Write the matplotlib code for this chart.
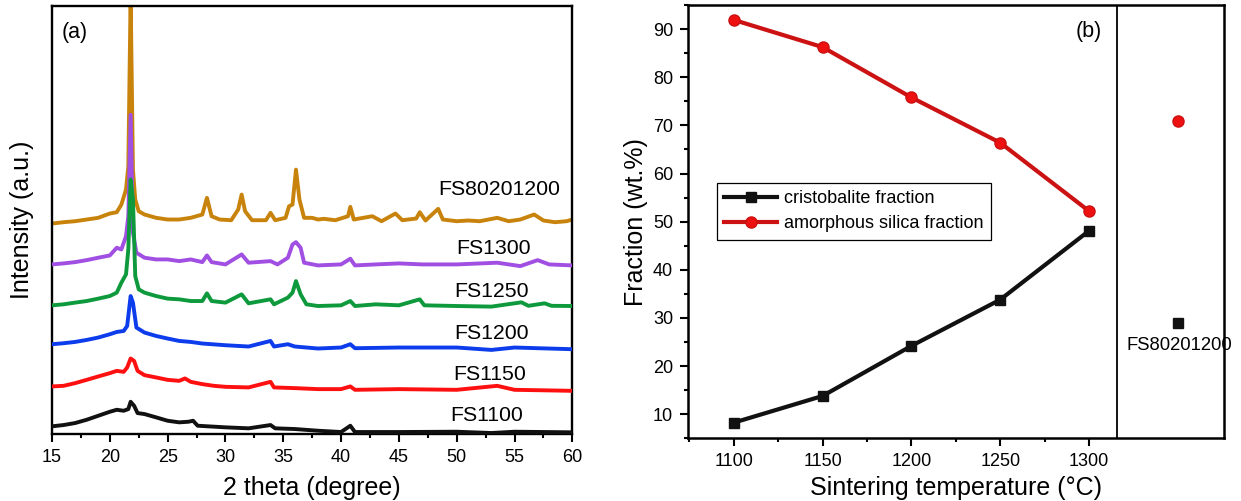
import matplotlib
matplotlib.use('Agg')
import matplotlib.pyplot as plt
from matplotlib.ticker import FixedLocator, MultipleLocator

plt.rcParams['font.family'] = ['Liberation Sans', 'DejaVu Sans']

# ---------------- (a) XRD patterns (2theta in degree, intensity in a.u., offset stacked) -------------
fs1100_x = [15.0, 16.0, 17.0, 18.0, 19.0, 20.0, 20.6, 21.2, 21.6, 21.8, 22.1, 22.4, 23.0, 24.0, 25.0,
            26.0, 26.8, 27.2, 27.6, 28.5, 30.0, 32.0, 33.9, 34.3, 36.0, 38.0, 40.0, 40.8, 41.2, 45.0,
            50.0, 53.0, 55.0, 60.0]
fs1100_y = [7.7, 9.0, 11.0, 14.3, 18.3, 22.3, 24.3, 23.3, 25.0, 32.3, 28.3, 21.0, 20.0, 16.7, 13.3,
            11.7, 12.3, 13.3, 8.3, 7.7, 6.7, 5.7, 9.0, 5.7, 5.0, 3.3, 2.0, 8.3, 2.0, 2.0,
            2.3, 1.0, 2.3, 1.7]

fs1150_x = [15.0, 16.0, 17.0, 18.0, 19.0, 20.0, 20.6, 21.2, 21.5, 21.8, 22.1, 22.4, 23.0, 24.0, 25.0,
            26.0, 26.5, 27.0, 28.0, 29.0, 30.0, 32.0, 33.9, 34.2, 36.0, 38.0, 40.0, 40.8, 41.2, 45.0,
            50.0, 53.5, 55.0, 60.0]
fs1150_y = [47.7, 48.3, 51.0, 54.3, 57.7, 61.0, 63.3, 62.3, 66.7, 75.7, 73.3, 63.3, 59.0, 56.7, 54.3,
            53.3, 55.7, 52.3, 50.0, 48.3, 47.3, 46.7, 52.3, 46.7, 46.0, 45.0, 45.0, 47.7, 44.3, 45.0,
            44.3, 48.3, 44.3, 43.3]

fs1200_x = [15.0, 16.0, 17.0, 18.0, 19.0, 20.0, 20.6, 21.2, 21.5, 21.8, 22.0, 22.3, 23.0, 24.0, 25.0,
            26.0, 27.0, 28.0, 30.0, 32.0, 33.9, 34.2, 35.4, 36.0, 38.0, 40.0, 40.8, 41.2, 45.0, 50.0,
            53.0, 55.0, 60.0]
fs1200_y = [90.0, 91.0, 92.3, 94.3, 96.7, 100.0, 102.3, 103.3, 108.3, 138.3, 131.7, 106.7, 101.7, 98.3, 95.7,
            93.3, 92.3, 90.7, 89.0, 87.7, 93.3, 87.7, 90.0, 87.7, 85.7, 86.7, 90.0, 86.0, 86.7, 86.7,
            84.3, 86.7, 85.0]

fs1250_x = [15.0, 16.0, 17.0, 18.0, 19.0, 20.0, 20.6, 21.0, 21.4, 21.6, 21.8, 22.0, 22.2, 22.5, 23.0,
            24.0, 25.0, 26.0, 27.0, 28.0, 28.4, 28.8, 30.0, 31.4, 32.0, 33.9, 34.2, 35.4, 35.8, 36.1,
            36.5, 37.0, 38.0, 40.0, 40.8, 41.2, 43.0, 45.0, 46.8, 47.2, 50.0, 53.0, 55.6, 56.2, 57.6,
            58.2, 60.0]
fs1250_y = [129.0, 130.0, 131.7, 133.3, 135.7, 138.3, 141.7, 151.7, 160.0, 185.0, 255.0, 235.0, 158.3, 145.0, 141.7,
            138.3, 135.7, 135.0, 133.3, 133.3, 141.0, 133.3, 131.7, 140.0, 131.0, 135.0, 130.0, 136.7, 141.7, 153.3,
            140.0, 130.0, 128.3, 129.0, 133.3, 128.3, 130.0, 129.0, 135.0, 129.0, 128.3, 127.7, 132.0, 128.5, 131.0,
            128.5, 128.3]

fs1300_x = [15.0, 16.0, 17.0, 18.0, 19.0, 20.0, 20.6, 21.0, 21.4, 21.6, 21.8, 22.0, 22.3, 23.0, 24.0,
            25.0, 26.0, 27.0, 28.0, 28.4, 28.8, 30.0, 31.4, 32.0, 33.9, 34.5, 35.4, 35.8, 36.1, 36.5,
            36.8, 38.0, 40.0, 40.8, 41.2, 43.0, 45.0, 47.0, 50.0, 53.5, 55.5, 57.0, 58.0, 60.0]
fs1300_y = [170.0, 171.0, 172.3, 174.3, 176.7, 179.0, 186.7, 185.0, 198.3, 218.3, 320.0, 201.7, 181.7, 176.7, 175.0,
            175.0, 173.3, 175.0, 172.3, 179.0, 172.3, 170.0, 180.0, 171.7, 173.3, 170.0, 176.7, 190.0, 192.3, 186.7,
            171.7, 169.0, 170.0, 175.7, 169.0, 170.0, 171.0, 170.0, 170.0, 171.7, 168.3, 174.3, 170.0, 169.0]

fs8020_x = [15.0, 16.0, 17.0, 18.0, 19.0, 20.0, 20.6, 21.0, 21.4, 21.6, 21.8, 22.0, 22.2, 22.5, 23.0,
            24.0, 25.0, 26.0, 27.0, 28.0, 28.4, 28.8, 29.5, 30.5, 31.1, 31.4, 31.7, 32.3, 33.5, 33.9,
            34.3, 35.2, 35.5, 35.8, 36.1, 36.4, 36.8, 37.5, 38.0, 38.5, 39.5, 40.6, 40.8, 41.1, 42.7,
            43.5, 44.7, 45.3, 46.5, 46.8, 47.3, 48.4, 48.8, 50.0, 51.0, 52.0, 53.5, 54.5, 55.5, 56.7,
            57.5, 58.5, 59.5, 60.0]
fs8020_y = [211.0, 212.3, 213.3, 215.0, 216.7, 221.0, 222.3, 230.0, 245.0, 268.3, 440.0, 265.0, 235.0, 223.3, 220.0,
            216.7, 215.0, 215.0, 216.7, 220.0, 236.7, 218.3, 215.0, 214.3, 225.0, 240.0, 223.3, 214.3, 214.3, 221.7,
            214.3, 216.7, 228.3, 230.0, 265.0, 235.0, 216.7, 216.7, 215.0, 215.7, 214.3, 218.3, 227.7, 215.0, 218.3,
            213.3, 221.0, 214.3, 216.0, 222.3, 214.0, 225.7, 215.0, 213.3, 214.0, 213.3, 216.7, 213.3, 215.0, 220.0,
            214.0, 212.3, 213.3, 215.0]

xrd_names = ['FS80201200', 'FS1300', 'FS1250', 'FS1200', 'FS1150', 'FS1100']
xrd_colors = ['#c8830c', '#a04fe2', '#0e9a3c', '#0c3ceb', '#ff1010', '#111111']
xrd_x = [fs8020_x, fs1300_x, fs1250_x, fs1200_x, fs1150_x, fs1100_x]
xrd_y = [fs8020_y, fs1300_y, fs1250_y, fs1200_y, fs1150_y, fs1100_y]

# ---------------- (b) phase fractions ----------------
temps = [1100, 1150, 1200, 1250, 1300]
cristobalite = [8.26, 13.8, 24.2, 33.8, 48.1]
amorphous = [91.9, 86.25, 75.8, 66.4, 52.2]
extra_label = 'FS80201200'
extra_cristobalite = 28.9
extra_amorphous = 70.9

fig = plt.figure(figsize=(12.41, 5.01), dpi=100)
ax1 = fig.add_axes([0.0419, 0.1337, 0.4193, 0.8543])
ax2 = fig.add_axes([0.5541, 0.1251, 0.4322, 0.8649])

# ---- panel (a)
for i, (xs, ys, c) in enumerate(zip(xrd_x, xrd_y, xrd_colors)):
    ax1.plot(xs, ys, color=c, lw=2.8, zorder=2 + i, solid_joinstyle='round')

label_pos = [(53.66, 239.4), (53.22, 180.4), (53.05, 137.4), (53.05, 95.4), (52.88, 54.4), (52.62, 13.4)]
for name, (lx, ly) in zip(xrd_names, label_pos):
    ax1.text(lx, ly, name, fontsize=15.3, ha='center', va='baseline', zorder=10)

ax1.set_xlim(15, 60)
ax1.set_ylim(0, 429)
ax1.xaxis.set_major_locator(MultipleLocator(5))
ax1.xaxis.set_minor_locator(MultipleLocator(2.5))
ax1.tick_params(axis='x', which='major', direction='out', length=5.5, width=1.5, labelsize=13, pad=5)
ax1.tick_params(axis='x', which='minor', direction='out', length=3, width=1.5)
ax1.tick_params(axis='y', left=False, labelleft=False, which='both')
for sp in ax1.spines.values():
    sp.set_linewidth(1.7)
ax1.text(0.044, 0.937, '(a)', transform=ax1.transAxes, fontsize=15.5, ha='center', va='center')
ax1.set_xlabel('2 theta (degree)', fontsize=18)
ax1.xaxis.set_label_coords(0.5, (434 - 495) / 428)
ax1.xaxis.label.set_va('baseline')
ax1.set_ylabel('Intensity (a.u.)', fontsize=18)
ax1.yaxis.set_label_coords((22 - 52) / 520.3, 0.5)
ax1.yaxis.label.set_va('center')

# ---- panel (b)
ax2.plot(temps, cristobalite, color='#111111', lw=3.0, marker='s', ms=7.5, mfc='#111111', mec='#111111',
         label='cristobalite fraction', zorder=3)
ax2.plot(temps, amorphous, color='#cc1212', lw=3.0, marker='o', ms=8, mfc='#ee1111', mec='#cc1010',
         label='amorphous silica fraction', zorder=3)
ax2.plot([1350], [extra_cristobalite], ls='none', marker='s', ms=7.5, color='#111111', zorder=3)
ax2.plot([1350], [extra_amorphous], ls='none', marker='o', ms=8, mfc='#ee1111', mec='#cc1010', zorder=3)
ax2.text(1350.6, 23.4, extra_label, fontsize=13.3, ha='center', va='baseline')
ax2.axvline(1316, color='black', lw=1.3, zorder=1)

ax2.set_xlim(1074, 1376)
ax2.set_ylim(5, 95)
ax2.xaxis.set_major_locator(FixedLocator(temps))
ax2.xaxis.set_minor_locator(FixedLocator([1075, 1125, 1175, 1225, 1275]))
ax2.yaxis.set_major_locator(MultipleLocator(10))
ax2.yaxis.set_minor_locator(MultipleLocator(5))
ax2.set_yticks(range(10, 91, 10))
ax2.tick_params(which='major', direction='out', length=5.5, width=1.5, labelsize=13, pad=5)
ax2.tick_params(which='minor', direction='out', length=3, width=1.5)
for sp in ax2.spines.values():
    sp.set_linewidth(1.8)
ax2.text(0.747, 0.938, '(b)', transform=ax2.transAxes, fontsize=15.5, ha='center', va='center')
ax2.set_xlabel('Sintering temperature (°C)', fontsize=18)
ax2.xaxis.set_label_coords(0.5, (438.3 - 495) / 433.3)
ax2.xaxis.label.set_va('baseline')
ax2.set_ylabel('Fraction (wt.%)', fontsize=18)
ax2.yaxis.set_label_coords((636 - 687.7) / 536.3, 0.5)
ax2.yaxis.label.set_va('center')

leg = ax2.legend(loc='upper left', bbox_to_anchor=(0.055, 0.589), borderaxespad=0, fontsize=13,
                 frameon=True, fancybox=False, edgecolor='black', framealpha=1, handlelength=2.9,
                 handletextpad=0.4, labelspacing=0.45, borderpad=0.4)
leg.get_frame().set_linewidth(0.9)

fig.savefig('out.png', dpi=100)
